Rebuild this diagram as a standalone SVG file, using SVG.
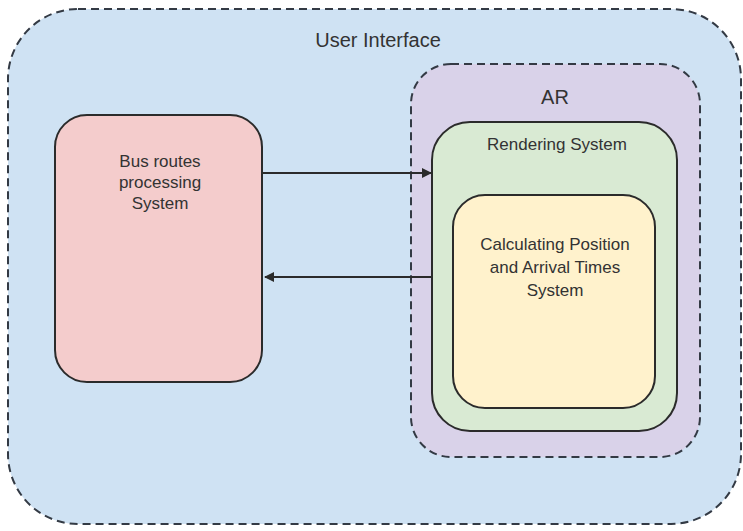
<svg xmlns="http://www.w3.org/2000/svg" width="743" height="531" viewBox="0 0 743 531">
  <style>
    .dash { stroke: #333a44; stroke-width: 2; stroke-dasharray: 8 5; }
    .solid { stroke: #2b2b2b; stroke-width: 2; }
    .title { font-family: "Liberation Sans", Arial, sans-serif; font-size: 20px; fill: #333; text-anchor: middle; }
    .label { font-family: "Liberation Sans", Arial, sans-serif; font-size: 17px; fill: #333; text-anchor: middle; }
    .conn { stroke: #2b2b2b; stroke-width: 2; fill: none; }
  </style>
  <defs>
    <marker id="arrow" viewBox="0 0 10 10" refX="9" refY="5" markerWidth="5" markerHeight="5" orient="auto-start-reverse" markerUnits="strokeWidth">
      <path d="M0,0 L10,5 L0,10 z" fill="#2b2b2b"/>
    </marker>
  </defs>

  <rect width="743" height="531" fill="#ffffff"/>

  <!-- outer container -->
  <g id="user-interface">
    <rect x="8" y="9" width="733" height="515" rx="70" ry="70" fill="#cfe2f3" class="dash"/>
    <text x="378" y="47" class="title">User Interface</text>
  </g>

  <!-- AR container -->
  <g id="ar">
    <rect x="411" y="64" width="289" height="393" rx="40" ry="40" fill="#d9d2e9" class="dash"/>
    <text x="555" y="104" class="title">AR</text>
  </g>

  <g id="rendering-system">
    <rect x="432" y="122" width="245" height="309" rx="38" ry="38" fill="#d9ead3" class="solid"/>
    <text x="557" y="150" class="label">Rendering System</text>
  </g>

  <g id="calculating-system">
    <rect x="453" y="195" width="202" height="213" rx="32" ry="32" fill="#fff2cc" class="solid"/>
    <text x="555" y="250" class="label">Calculating Position</text>
    <text x="555" y="273" class="label">and Arrival Times</text>
    <text x="555" y="296" class="label">System</text>
  </g>

  <g id="bus-routes">
    <rect x="55" y="115" width="207" height="267" rx="32" ry="32" fill="#f4cccc" class="solid"/>
    <text x="160" y="167" class="label">Bus routes</text>
    <text x="160" y="188" class="label">processing</text>
    <text x="160" y="209" class="label">System</text>
  </g>

  <!-- connectors -->
  <g id="connectors">
    <line x1="263" y1="173" x2="431" y2="173" class="conn" marker-end="url(#arrow)"/>
    <line x1="432" y1="277" x2="265" y2="277" class="conn" marker-end="url(#arrow)"/>
  </g>
</svg>
